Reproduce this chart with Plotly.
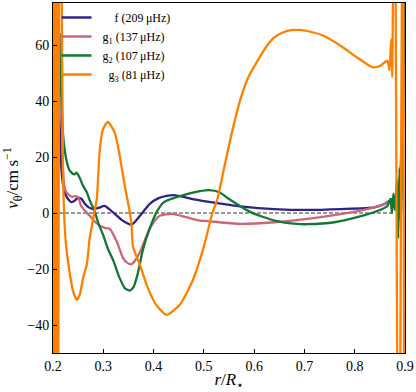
import plotly.graph_objects as go

# radius r/R* and horizontal velocity v_theta (cm/s)
f_r = [0.200, 0.206, 0.211, 0.215, 0.218, 0.221, 0.225, 0.230, 0.236, 0.243, 0.250, 0.257, 0.263,
       0.271, 0.280, 0.290, 0.303, 0.319, 0.339, 0.356, 0.373, 0.392, 0.410, 0.426, 0.440,
       0.458, 0.480, 0.507, 0.540, 0.573, 0.640, 0.706, 0.772, 0.839, 0.859, 0.869, 0.874,
       0.879, 0.884, 0.889, 0.893, 0.896, 0.899]
f_v = [150, 90, 45, 22, 13, 9, 6.5, 5, 3.9, 4.4, 5.5, 5, 3.4,
       2, 1.4, 1.8, 2.5, 0.3, -2.8, -4.2, -1, 3.2, 5.3, 6.1, 6.4,
       5.8, 4.9, 4.1, 3.2, 2.4, 1.4, 1.1, 1.4, 2, 3.2, 4.3, 5,
       3.5, 8, 5, 14, 40, 150]

g1_r = [0.200, 0.206, 0.211, 0.2155, 0.218, 0.221, 0.225, 0.230, 0.238, 0.244, 0.250, 0.256,
        0.265, 0.273, 0.280, 0.293, 0.303, 0.313, 0.327, 0.339, 0.348, 0.356, 0.364, 0.373,
        0.392, 0.412, 0.438, 0.465, 0.492, 0.507, 0.573, 0.641, 0.706, 0.772, 0.825, 0.859,
        0.869, 0.874, 0.878, 0.883, 0.888, 0.893, 0.897]
g1_v = [30, 45, 58, 64, 30, 12, 8, 6.7, 5.8, 6, 5.6, 2.5,
        0.5, -1, -2.5, -4.5, -5.3, -5.7, -10.3, -16, -17.8, -18.3, -16.8, -13.9,
        -5.7, -1, -0.3, -1.5, -2.7, -2.9, -3.9, -3.3, -2.1, -0.4, 1.4, 3.2,
        3.9, 4.6, 3, 6, 9, 25, 80]

g2_r = [0.200, 0.206, 0.211, 0.2145, 0.217, 0.220, 0.2255, 0.232, 0.238, 0.243, 0.247, 0.253,
        0.260, 0.267, 0.273, 0.282, 0.290, 0.300, 0.309, 0.320, 0.332, 0.343, 0.353, 0.360,
        0.368, 0.379, 0.392, 0.406, 0.420, 0.452, 0.492, 0.510, 0.530, 0.550, 0.593, 0.641,
        0.686, 0.706, 0.760, 0.805, 0.845, 0.865, 0.871, 0.874, 0.877, 0.880, 0.884, 0.8865,
        0.889, 0.892, 0.896, 0.899]
g2_v = [120, 95, 70, 50, 40, 28, 20, 15.5, 14.2, 13.8, 14.4, 12.6,
        9.6, 7.5, 4.5, 1, -3.5, -8, -12.7, -17, -23, -26.9, -27.7, -26.5,
        -22, -13, -5.7, 0.3, 3.8, 6, 7.8, 8.2, 7.5, 5, 0.3, -2.7,
        -3.9, -4, -3.3, -1.5, 0.7, 2.5, 5, 0, 7, 1, 12, -9,
        16, -5, 30, 80]

g3_r = [0.2005, 0.2015, 0.2025, 0.2035, 0.2045, 0.2055, 0.2075, 0.2095, 0.2135, 0.217, 0.220,
        0.223, 0.226, 0.232, 0.240, 0.2475, 0.2535, 0.260, 0.267, 0.273, 0.282, 0.287, 0.293,
        0.299, 0.309, 0.323, 0.333, 0.343, 0.352, 0.356, 0.359, 0.366, 0.373, 0.389, 0.406,
        0.426, 0.452, 0.478, 0.500, 0.517, 0.527, 0.541, 0.557, 0.574, 0.590, 0.607, 0.623,
        0.640, 0.656, 0.673, 0.690, 0.706, 0.739, 0.772, 0.805, 0.832, 0.838, 0.851, 0.865,
        0.869, 0.8725, 0.8745, 0.879, 0.8875, 0.896, 0.899]
g3_v = [150, -150, 150, -150, 150, -150, 150, -150, 150, 90, 14,
        -4, -11.6, -20, -28, -31, -29, -23, -18.6, -9, 0, 5, 22.6,
        29.7, 32.5, 28.6, 20, 9.5, 1, -4, -12, -15.5, -18.6, -27, -33,
        -36.4, -32.8, -24, -12, 0, 5, 16.7, 29.7, 41.4, 49.1, 54.4, 59.1,
        62.7, 64.4, 65.3, 65.4, 65, 63.2, 59.7, 55.5, 52.3, 52, 52.6, 54.4,
        51, 62, 48.5, 150, -150, 150, -150]

# labels padded with no-break spaces so they sit right-aligned like the original
pad = "\u00a0"
names = [pad * 6 + "f (209\u2009\u03bcHz)",
         pad * 2 + "g<sub>1</sub> (137\u2009\u03bcHz)",
         pad * 2 + "g<sub>2</sub> (107\u2009\u03bcHz)",
         pad * 4 + "g<sub>3</sub> (81\u2009\u03bcHz)"]
colors = ["#332288", "#CC6677", "#117733", "#FF8000"]

fig = go.Figure()
for r, v, name, c in zip([f_r, g1_r, g2_r, g3_r], [f_v, g1_v, g2_v, g3_v], names, colors):
    fig.add_trace(go.Scatter(x=r, y=v, name=name, mode="lines",
                             line=dict(color=c, width=2.3, shape="spline", smoothing=0.6)))

fig.add_shape(type="line", xref="x", yref="y", x0=0.2, x1=0.88, y0=0, y1=0,
              line=dict(color="black", width=0.8, dash="4px,2px"), layer="below")

font = "Liberation Serif"
fig.update_layout(
    width=416, height=392,
    margin=dict(l=53, r=10, t=2, b=36),
    paper_bgcolor="white", plot_bgcolor="white",
    font=dict(family=font, size=14, color="black"),
    showlegend=True,
    legend=dict(x=0.01, y=1.0, xanchor="left", yanchor="top",
                bgcolor="rgba(0,0,0,0)", font=dict(size=12), itemwidth=30,
                tracegroupgap=0),
)
fig.update_xaxes(range=[0.2, 0.9], tickvals=[0.2, 0.3, 0.4, 0.5, 0.6, 0.7, 0.8, 0.9],
                 ticktext=["0.2", "0.3", "0.4", "0.5", "0.6", "0.7", "0.8", "0.9"],
                 showgrid=False, zeroline=False, showline=True, linecolor="black",
                 linewidth=1, mirror=True, ticks="inside", ticklen=4, tickcolor="black",
                 title=dict(text="<i>r</i>/<i>R</i><sub><span style='font-family:DejaVu Sans'>\u22c6</span></sub>",
                            standoff=4))
fig.update_yaxes(range=[-50, 75], tickvals=[-40, -20, 0, 20, 40, 60],
                 showgrid=False, zeroline=False, showline=True, linecolor="black",
                 linewidth=1, mirror=True, ticks="inside", ticklen=4, tickcolor="black",
                 title=dict(text="<i>v</i><sub>\u03b8</sub>/cm\u2009s<sup>\u22121</sup>", standoff=4))

fig.write_html("out.html", config={"displayModeBar": False},
               post_script="document.body.style.margin='0';")
